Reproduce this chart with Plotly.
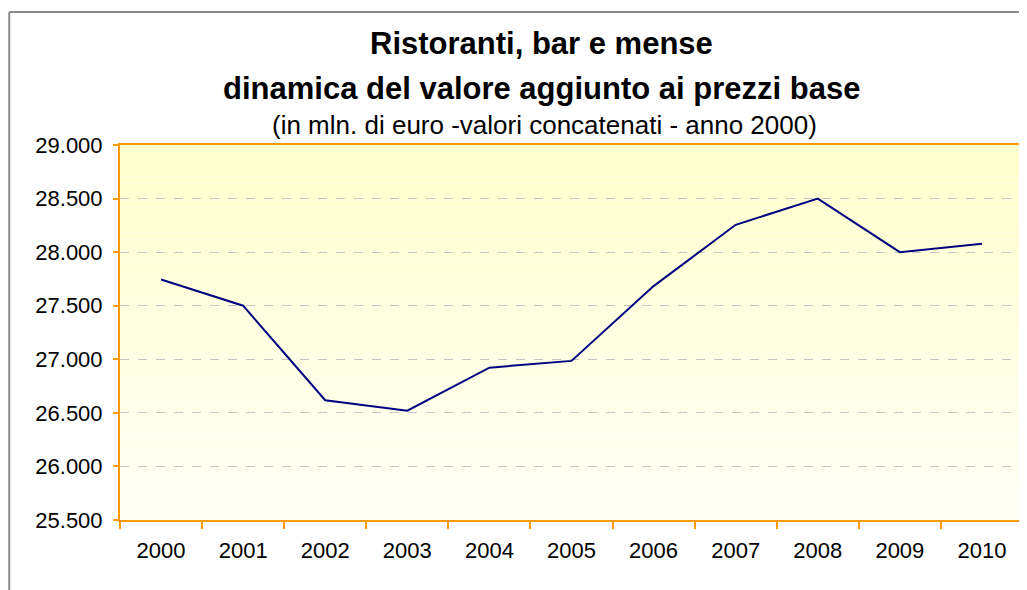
import plotly.graph_objects as go

years = ["2000", "2001", "2002", "2003", "2004", "2005", "2006", "2007", "2008", "2009", "2010"]
values = [27745, 27500, 26618, 26520, 26922, 26985, 27683, 28255, 28500, 28000, 28078]
y_ticks = [25500, 26000, 26500, 27000, 27500, 28000, 28500, 29000]
y_tick_labels = ["25.500", "26.000", "26.500", "27.000", "27.500", "28.000", "28.500", "29.000"]

title1 = "Ristoranti, bar e mense"
title2 = "dinamica del valore aggiunto ai prezzi base"
subtitle = "(in mln. di euro -valori concatenati - anno 2000)"

# page body has an 8px margin; figure starts at (8, 8)
OFF = 8
W, H = 1027 - OFF, 590 - OFF
PL, PR, PT, PB = 120, 1025, 145, 520   # plot area in page pixels
ML, MR, MT, MB = PL - OFF, W - (PR - OFF), PT - OFF, H - (PB - OFF)
PW = W - ML - MR
PH = H - MT - MB

ORANGE = "#FF9900"
FONT = "Liberation Sans, Arial, sans-serif"

fig = go.Figure()
fig.add_trace(go.Scatter(
    x=years, y=values, mode="lines",
    line=dict(color="#000080", width=2),
    showlegend=False, hoverinfo="x+y",
))

# vertical gradient background (light yellow at top to near white at bottom)
shapes = []
n = 60
top = (255, 255, 204)
bot = (255, 255, 246)
for i in range(n):
    t = i / (n - 1)
    r = round(top[0] + (bot[0] - top[0]) * t)
    g = round(top[1] + (bot[1] - top[1]) * t)
    b = round(top[2] + (bot[2] - top[2]) * t)
    shapes.append(dict(
        type="rect", xref="paper", yref="paper",
        x0=0, x1=1, y0=1 - (i + 1) / n, y1=1 - i / n,
        fillcolor=f"rgb({r},{g},{b})", line=dict(width=0), layer="below",
    ))

# outer chart frame (left and top gray lines)
fx = (9 - PL) / PW
fy = 1 + (PT - 12) / PH
shapes.append(dict(type="line", xref="paper", yref="paper", x0=fx, x1=fx, y0=fy, y1=-1,
                   line=dict(color="#8a8a8a", width=2)))
shapes.append(dict(type="line", xref="paper", yref="paper", x0=fx, x1=2, y0=fy, y1=fy,
                   line=dict(color="#8a8a8a", width=2)))

cx = (542 - PL) / PW
annotations = [
    dict(text=f"<b>{title1}</b>", x=cx, y=1, xref="paper", yref="paper",
         yshift=PT - 43, yanchor="middle", showarrow=False,
         font=dict(family=FONT, size=31, color="black")),
    dict(text=f"<b>{title2}</b>", x=cx, y=1, xref="paper", yref="paper",
         yshift=PT - 88, yanchor="middle", showarrow=False,
         font=dict(family=FONT, size=31, color="black")),
    dict(text=subtitle, x=(545 - PL) / PW, y=1, xref="paper", yref="paper",
         yshift=PT - 125, yanchor="middle", showarrow=False,
         font=dict(family=FONT, size=26, color="black")),
]

fig.update_layout(
    width=W, height=H,
    margin=dict(l=ML, r=MR, t=MT, b=MB),
    paper_bgcolor="white",
    plot_bgcolor="rgba(0,0,0,0)",
    shapes=shapes,
    annotations=annotations,
    font=dict(family=FONT, color="black"),
)

fig.update_xaxes(
    type="category", range=[-0.5, 10.5],
    showgrid=False, showline=True, linecolor=ORANGE, linewidth=2, mirror=True,
    ticks="outside", tickson="boundaries", ticklen=7, tickcolor=ORANGE, tickwidth=1.5,
    tickfont=dict(family=FONT, size=22, color="black"),
    ticklabelstandoff=10,
    fixedrange=True,
)
fig.update_yaxes(
    range=[25500, 29000], tickvals=y_ticks, ticktext=y_tick_labels,
    showgrid=True, gridcolor="#c4c4c4", griddash="dash", gridwidth=1,
    showline=True, linecolor=ORANGE, linewidth=2, mirror=True,
    ticks="outside", ticklen=5, tickcolor=ORANGE, tickwidth=1.5,
    tickfont=dict(family=FONT, size=22, color="black"),
    ticklabelstandoff=6,
    zeroline=False, fixedrange=True,
)

fig.write_html("out.html")
